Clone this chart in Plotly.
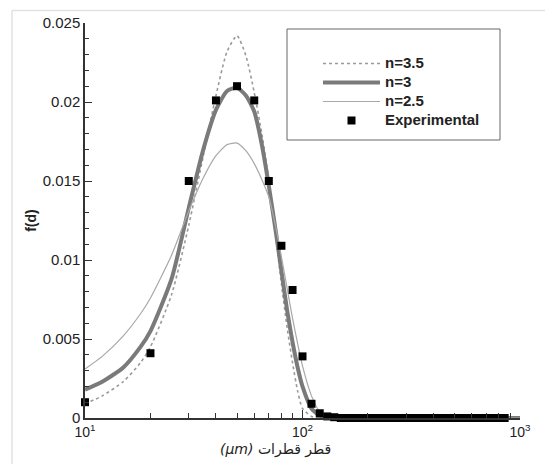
import plotly.graph_objects as go

# ---- data ----
d_curve = [10, 12, 15, 18, 20, 25, 30, 35, 40, 45, 50, 55, 60, 65, 70, 75, 80, 85, 90, 95, 100, 110, 120, 130, 150, 200, 300, 500, 1000]
f_n35 = [0.0009, 0.0014, 0.0023, 0.0035, 0.0045, 0.0078, 0.0122, 0.0166, 0.0204, 0.0232, 0.0242, 0.0229, 0.0206, 0.0180, 0.0151, 0.0117, 0.0085, 0.0057, 0.0035, 0.0017, 0.0006, 0.0001, 0.0, 0.0, 0.0, 0.0, 0.0, 0.0, 0.0]
f_n3 = [0.0018, 0.0023, 0.0032, 0.0045, 0.0055, 0.0088, 0.0133, 0.0170, 0.0195, 0.0207, 0.0209, 0.0204, 0.0194, 0.0173, 0.0147, 0.0120, 0.0093, 0.0068, 0.0048, 0.0032, 0.0020, 0.0006, 0.00015, 0.00003, 0.0, 0.0, 0.0, 0.0, 0.0]
f_n25 = [0.0031, 0.0039, 0.0052, 0.0066, 0.0076, 0.0103, 0.0131, 0.0152, 0.0166, 0.0173, 0.0174, 0.0169, 0.0161, 0.0151, 0.0140, 0.0122, 0.0102, 0.0082, 0.0063, 0.0047, 0.0033, 0.0014, 0.0004, 0.0001, 0.0, 0.0, 0.0, 0.0, 0.0]

exp_d = [10, 20, 30, 40, 50, 60, 70, 80, 90, 100, 110, 120, 130, 140, 150, 160, 170, 180, 190, 200,
         210, 220, 230, 240, 250, 260, 270, 280, 290, 300, 310, 320, 330, 340, 350, 360, 370, 380,
         390, 400, 410, 420, 430, 440, 450, 460, 470, 480, 490, 500, 510, 520, 530, 540, 550, 560,
         570, 580, 590, 600, 610, 620, 630, 640, 650, 660, 670, 680, 690, 700, 710, 720, 730, 740,
         750, 760, 770, 780, 790, 800, 810, 820, 830, 840, 850]
exp_f = [0.0010, 0.0041, 0.0150, 0.0201, 0.0210, 0.0201, 0.0150, 0.0109, 0.0081, 0.0039, 0.0009, 0.0003, 0.0001,
         0.00005, 0, 0, 0, 0, 0, 0, 0, 0, 0, 0, 0, 0, 0, 0, 0, 0, 0, 0, 0, 0, 0, 0, 0, 0, 0, 0, 0, 0, 0, 0, 0,
         0, 0, 0, 0, 0, 0, 0, 0, 0, 0, 0, 0, 0, 0, 0, 0, 0, 0, 0, 0, 0, 0, 0, 0, 0, 0, 0, 0, 0, 0, 0, 0, 0, 0,
         0, 0, 0, 0, 0, 0]

series_names = ["n=3.5", "n=3", "n=2.5", "Experimental"]
x_tickvals = [10, 100, 1000]
x_ticktext = ["10<sup>1</sup>", "10<sup>2</sup>", "10<sup>3</sup>"]
x_minor = [20, 30, 40, 50, 60, 70, 80, 90, 200, 300, 400, 500, 600, 700, 800, 900]
y_tickvals = [0, 0.005, 0.01, 0.015, 0.02, 0.025]
y_ticktext = ["0", "0.005", "0.01", "0.015", "0.02", "0.025"]

FONT = "Liberation Sans, Arial, sans-serif"

def leg(name):
    return '<span style="font-size:15px"><b>%s</b></span>' % name

fig = go.Figure()
fig.add_trace(go.Scatter(x=d_curve, y=f_n35, mode="lines", name=leg(series_names[0]),
                         line=dict(color="#9a9a9a", width=1.6, dash="3px,3px", shape="spline", smoothing=0.6)))
fig.add_trace(go.Scatter(x=d_curve, y=f_n3, mode="lines", name=leg(series_names[1]),
                         line=dict(color="#7a7a7a", width=4, shape="spline", smoothing=0.6)))
fig.add_trace(go.Scatter(x=d_curve, y=f_n25, mode="lines", name=leg(series_names[2]),
                         line=dict(color="#a8a8a8", width=1.2, shape="spline", smoothing=0.6)))
fig.add_trace(go.Scatter(x=exp_d, y=exp_f, mode="markers", name=leg(series_names[3]),
                         marker=dict(symbol="square", size=8, color="black"), cliponaxis=False))

W, H = 545, 464
L, R, T, B = 85, 25, 23, 46
pw, ph = W - L - R, H - T - B

def px(xp):
    return (xp - L) / pw

def py(yp):
    return (H - B - yp) / ph

fig.update_layout(
    width=W, height=H,
    margin=dict(l=L, r=R, t=T, b=B),
    paper_bgcolor="white", plot_bgcolor="white",
    font=dict(family=FONT, size=15, color="#222"),
    showlegend=True,
    legend=dict(x=px(318), y=py(49), xanchor="left", yanchor="top",
                bgcolor="rgba(0,0,0,0)", borderwidth=0,
                font=dict(family=FONT, size=12, color="#222"),
                itemwidth=57, tracegroupgap=0),
    xaxis=dict(type="log", range=[1, 3], showgrid=False, zeroline=False,
               showline=True, linecolor="#333", linewidth=1.5, mirror=False,
               ticks="inside", ticklen=8, tickwidth=1.2, tickcolor="#333",
               tickmode="array", tickvals=x_tickvals, ticktext=x_ticktext,
               tickfont=dict(size=14, color="#222"), ticklabelstandoff=0,
               minor=dict(ticks="inside", ticklen=5, tickwidth=1, tickcolor="#333", tickvals=x_minor)),
    yaxis=dict(range=[0, 0.025], showgrid=False, zeroline=False,
               showline=True, linecolor="#333", linewidth=1.5,
               ticks="inside", ticklen=7, tickwidth=1.2, tickcolor="#333",
               tickmode="array", tickvals=y_tickvals, ticktext=y_ticktext,
               tickfont=dict(size=15, color="#222"),
               minor=dict(ticks="inside", ticklen=4, tickwidth=1, tickcolor="#333", dtick=0.001),
               title=dict(text="<b>f(d)</b>", font=dict(size=14, color="#222"), standoff=3)),
)

# legend frame
fig.add_shape(type="rect", xref="paper", yref="paper",
              x0=px(287), x1=px(500), y0=py(140), y1=py(29),
              line=dict(color="#666", width=1))
# outer figure frame lines
fig.add_shape(type="line", xref="paper", yref="paper", x0=px(12), x1=px(545), y0=py(10.5), y1=py(10.5),
              line=dict(color="#e2e2e2", width=1.5))
fig.add_shape(type="line", xref="paper", yref="paper", x0=px(12), x1=px(12), y0=py(10.5), y1=py(464),
              line=dict(color="#e2e2e2", width=1.5))

# x-axis title (RTL Persian)
fig.add_annotation(xref="paper", yref="paper", x=px(275), y=py(449), xanchor="center", yanchor="middle",
                   text="<i>(μm)</i> قطر قطرات", showarrow=False,
                   font=dict(family="DejaVu Sans, Noto Sans, sans-serif", size=14, color="#222"))

fig.write_html("out.html")
